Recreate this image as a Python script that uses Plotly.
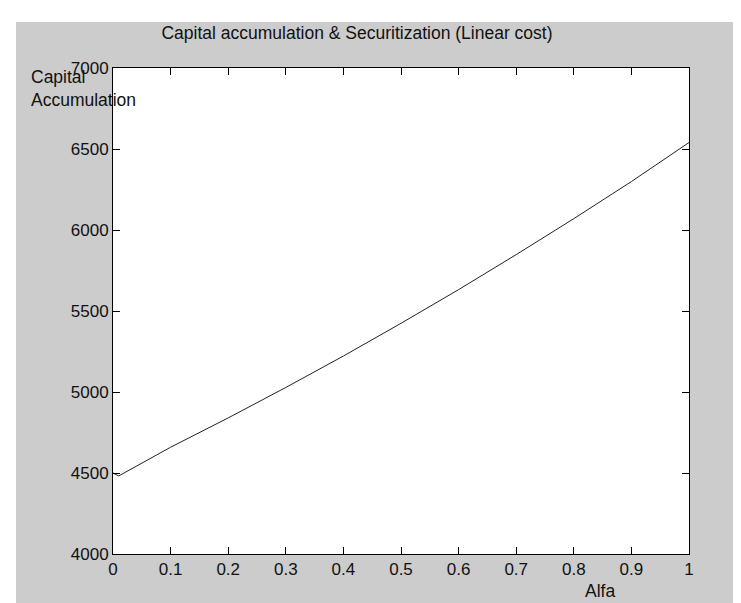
import plotly.graph_objects as go

alfa = [0.0, 0.01, 0.1, 0.2, 0.3, 0.4, 0.5, 0.6, 0.7, 0.8, 0.9, 1.0]
capital = [4500, 4482, 4659, 4840, 5028, 5222, 5424, 5632, 5848, 6070, 6299, 6540]

x_ticks = [0, 0.1, 0.2, 0.3, 0.4, 0.5, 0.6, 0.7, 0.8, 0.9, 1]
x_tick_text = ["0", "0.1", "0.2", "0.3", "0.4", "0.5", "0.6", "0.7", "0.8", "0.9", "1"]
y_ticks = [4000, 4500, 5000, 5500, 6000, 6500, 7000]

W, H = 741, 603
L, R, T, B = 105, 60, 60, 57
PW, PH = W - L - R, H - T - B

def px_x(p):
    return (p - L) / PW

def px_y(p):
    return (H - B - p) / PH

FONT = "Liberation Sans, Arial, sans-serif"
GRAY = "#cccccc"

fig = go.Figure()
fig.add_trace(go.Scatter(x=alfa, y=capital, mode="lines",
                         line=dict(color="#222222", width=1), showlegend=False))

axis_common = dict(showline=True, linecolor="black", linewidth=1, mirror="ticks",
                   ticks="inside", ticklen=7, tickcolor="black", tickwidth=1,
                   showgrid=False, zeroline=False,
                   tickfont=dict(family=FONT, size=17, color="#111111"))

fig.update_xaxes(range=[0, 1], tickvals=x_ticks, ticktext=x_tick_text, **axis_common)
fig.update_yaxes(range=[4000, 7000], tickvals=y_ticks, **axis_common)

fig.update_layout(
    width=W, height=H,
    margin=dict(l=L, r=R, t=T, b=B, pad=0),
    paper_bgcolor=GRAY, plot_bgcolor="white",
    title=dict(text="Capital accumulation & Securitization (Linear cost)",
               x=px_x(349), xref="paper", xanchor="center",
               y=1 - 25 / H, yref="container", yanchor="middle",
               font=dict(family=FONT, size=17.5, color="#111111")),
    shapes=[
        dict(type="rect", xref="paper", yref="paper", x0=px_x(0), x1=px_x(W),
             y0=px_y(14), y1=px_y(0), fillcolor="white", line=dict(width=0), layer="below"),
        dict(type="rect", xref="paper", yref="paper", x0=px_x(0), x1=px_x(8),
             y0=px_y(H), y1=px_y(0), fillcolor="white", line=dict(width=0), layer="below"),
    ],
    annotations=[
        dict(text="Capital", xref="paper", yref="paper", x=px_x(21), y=px_y(69),
             xanchor="left", yanchor="middle", showarrow=False,
             font=dict(family=FONT, size=17.5, color="#111111")),
        dict(text="Accumulation", xref="paper", yref="paper", x=px_x(21), y=px_y(92),
             xanchor="left", yanchor="middle", showarrow=False,
             font=dict(family=FONT, size=17.5, color="#111111")),
        dict(text="Alfa", xref="paper", yref="paper", x=px_x(592), y=px_y(583),
             xanchor="center", yanchor="middle", showarrow=False,
             font=dict(family=FONT, size=17.5, color="#111111")),
    ],
)

fig.write_html("out.html")
